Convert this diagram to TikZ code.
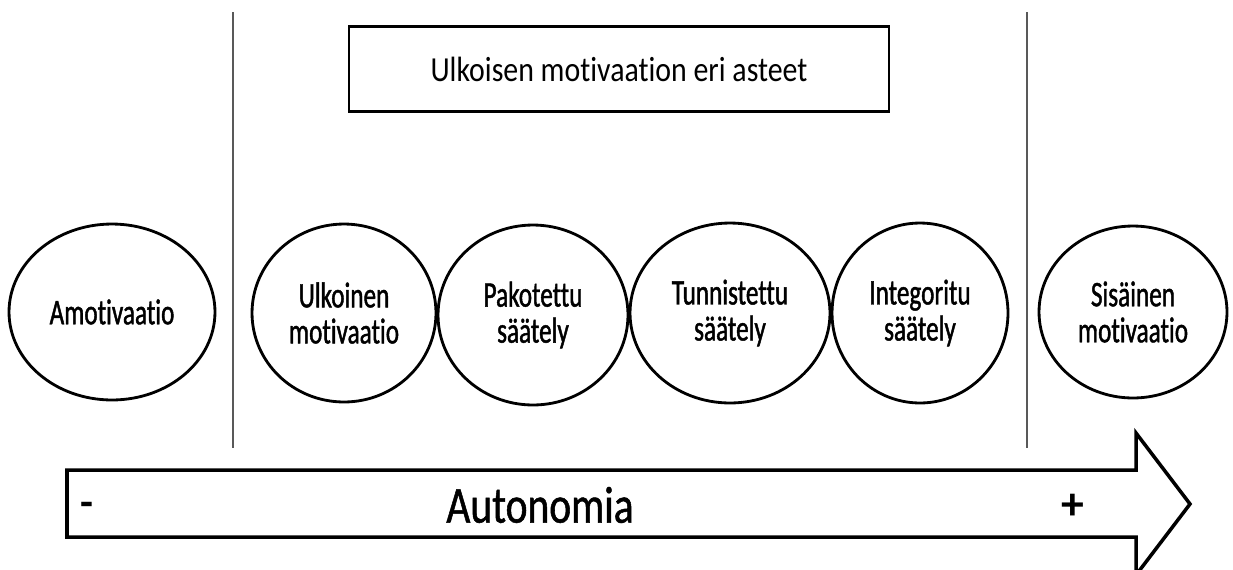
\documentclass[tikz,border=0pt]{standalone}
\usepackage{fontspec}
\setmainfont[RawFeature={-liga}]{Carlito}
\newfontfamily\narrowfont[FakeStretch=0.7, FakeBold=1.2, RawFeature={-liga}]{Carlito}
\newfontfamily\autofont[FakeStretch=0.8, FakeBold=1, RawFeature={-liga}]{Carlito}
\newfontfamily\titlefont[FakeStretch=0.85, RawFeature={-liga}]{Carlito}
\usetikzlibrary{shapes.geometric}

\begin{document}
\begin{tikzpicture}[x=0.02cm, y=-0.02cm,
	motiv/.style={draw=black, line width=1.6pt, shape=ellipse, inner sep=0pt, align=center,
		font=\narrowfont\fontsize{20.5}{20.5}\selectfont},
	divider/.style={draw=black!65, line width=0.7pt}]
	\useasboundingbox (0, 0) rectangle (1233, 569);

	\node [draw=black, line width=1.6pt, minimum width=10.8cm, minimum height=1.7cm,
		font=\titlefont\fontsize{20}{22}\selectfont] (degrees) at (619, 69) {Ulkoisen motivaation eri asteet};

	\coordinate (d1top) at (233, 12);
	\coordinate (d1bot) at (233, 448);
	\coordinate (d2top) at (1027, 12);
	\coordinate (d2bot) at (1027, 448);
	\draw [divider] (d1top) -- (d1bot);
	\draw [divider] (d2top) -- (d2bot);

	\node [motiv, minimum width=4.12cm, minimum height=3.52cm] (amot) at (112, 312) {Amotivaatio};
	\node [motiv, minimum width=3.68cm, minimum height=3.56cm] (ulk) at (344, 313) {Ulkoinen\\motivaatio};
	\node [motiv, minimum width=3.8cm, minimum height=3.6cm] (pak) at (533, 315) {Pakotettu\\säätely};
	\node [motiv, minimum width=4.0cm, minimum height=3.6cm] (tun) at (730, 313) {Tunnistettu\\säätely};
	\node [motiv, minimum width=3.52cm, minimum height=3.6cm] (int) at (920, 313) {Integoritu\\säätely};
	\node [motiv, minimum width=3.76cm, minimum height=3.44cm] (sis) at (1133, 312) {Sisäinen\\motivaatio};

	% autonomy arrow
	\draw [line width=2pt, line join=miter] (67, 470) -- (1136, 470) -- (1136, 433) -- (1190, 504)
		-- (1136, 575) -- (1136, 537) -- (67, 537) -- cycle;
	\node [font=\bfseries\fontsize{24}{24}\selectfont] (minus) at (87, 509) {-};
	\node [font=\autofont\fontsize{29.5}{32}\selectfont] (auto) at (540, 505) {Autonomia};
	\node [font=\bfseries\fontsize{26}{26}\selectfont] (plus) at (1073, 507) {+};
\end{tikzpicture}
\end{document}
